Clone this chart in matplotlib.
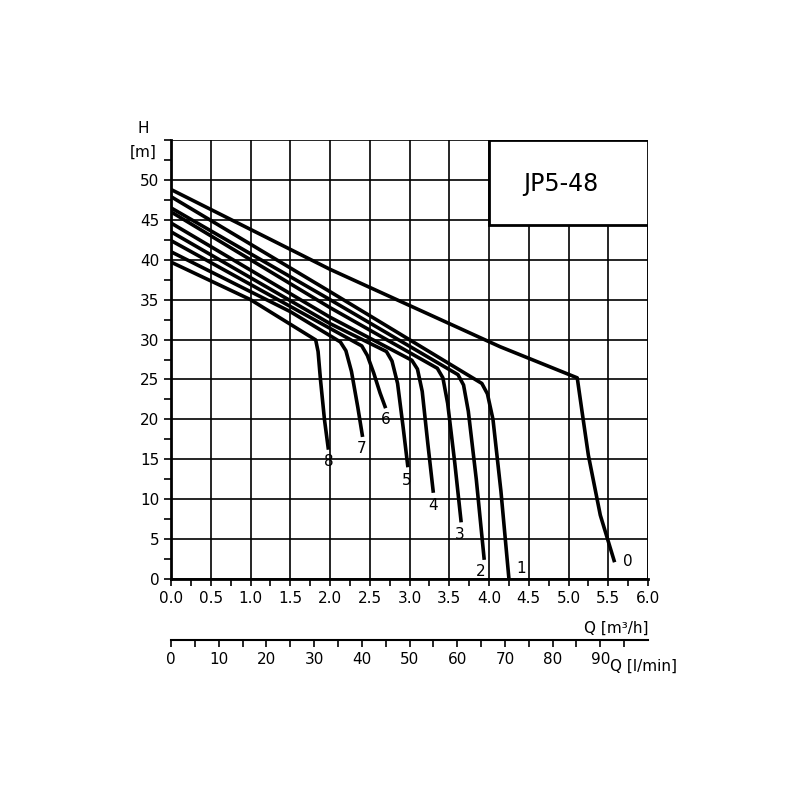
import matplotlib.pyplot as plt
from matplotlib.patches import Rectangle

# pump curves: (Q m3/h, H m) points
curve_q = {
    "0": [0.0, 2.0, 4.14, 5.11, 5.17, 5.25, 5.4, 5.58],
    "1": [0.0, 2.0, 3.91, 3.98, 4.05, 4.15, 4.25],
    "2": [0.0, 2.0, 3.61, 3.68, 3.74, 3.84, 3.94],
    "3": [0.0, 2.0, 3.35, 3.42, 3.48, 3.57, 3.65],
    "4": [0.0, 2.0, 3.03, 3.10, 3.16, 3.23, 3.30],
    "5": [0.0, 2.0, 2.71, 2.78, 2.85, 2.92, 2.98],
    "6": [0.0, 2.0, 2.40, 2.47, 2.55, 2.63, 2.70],
    "7": [0.0, 1.5, 2.13, 2.20, 2.27, 2.35, 2.41],
    "8": [0.0, 1.0, 1.82, 1.85, 1.88, 1.93, 1.98],
}
curve_h = {
    "0": [48.8, 38.8, 29.1, 25.2, 21.0, 15.5, 8.0, 2.1],
    "1": [47.9, 36.0, 24.5, 23.2, 20.0, 11.0, 0.1],
    "2": [46.5, 35.0, 25.6, 24.3, 21.0, 12.5, 2.4],
    "3": [46.0, 34.0, 26.4, 25.2, 22.0, 14.5, 7.1],
    "4": [44.6, 32.8, 27.4, 26.3, 23.5, 17.0, 10.8],
    "5": [43.5, 32.0, 28.5, 27.3, 24.5, 19.0, 14.0],
    "6": [42.4, 31.4, 29.2, 28.0, 25.8, 23.3, 21.4],
    "7": [41.0, 33.5, 29.7, 28.6, 26.0, 21.5, 17.8],
    "8": [39.7, 35.0, 29.95, 28.5, 25.0, 20.0, 16.2],
}
label_pos = {
    "0": (5.74, 2.2), "1": (4.41, 1.3), "2": (3.90, 0.9), "3": (3.63, 5.6),
    "4": (3.30, 9.2), "5": (2.97, 12.4), "6": (2.70, 20.0), "7": (2.40, 16.4), "8": (1.98, 14.7),
}

fig = plt.figure(figsize=(8, 8), dpi=100)
ax = fig.add_axes([0.21375, 0.27625, 0.59625, 0.54875])
ax.set_xlim(0, 6)
ax.set_ylim(0, 55)
ax.set_xticks([i * 0.5 for i in range(13)])
ax.set_xticklabels([f"{i*0.5:.1f}" for i in range(13)])
ax.set_xticks([i * 0.25 for i in range(25)], minor=True)
ax.set_yticks(range(0, 51, 5))
ax.set_yticks([i * 2.5 for i in range(23)], minor=True)
ax.grid(True, color="black", lw=1.2)
ax.axhline(55, color="black", lw=1.2)
ax.axvline(6, color="black", lw=1.2)
for s in ["top", "right"]:
    ax.spines[s].set_visible(False)
ax.spines["left"].set_linewidth(2)
ax.spines["bottom"].set_linewidth(2)
ax.tick_params(which="both", direction="out", length=5, width=1.2, labelsize=11)

for k in curve_q:
    ax.plot(curve_q[k], curve_h[k], color="black", lw=2.6, solid_capstyle="butt")
    ax.text(*label_pos[k], k, ha="center", va="center", fontsize=11)

ax.add_patch(Rectangle((4.0, 44.3), 2.0, 10.7, facecolor="white", edgecolor="black", lw=2, zorder=3))
ax.text(4.9, 49.5, "JP5-48", fontsize=17, ha="center", va="center", zorder=4)

ax.text(-0.35, 56.5, "H", fontsize=11, ha="center", va="center", clip_on=False)
ax.text(-0.35, 53.5, "[m]", fontsize=11, ha="center", va="center", clip_on=False)
fig.text(0.81, 0.215, "Q [m³/h]", fontsize=11, ha="right", va="center")

ax2 = fig.add_axes([0.21375, 0.2, 0.59625, 0.0001])
ax2.set_xlim(0, 100)
for s in ["top", "right", "left"]:
    ax2.spines[s].set_visible(False)
ax2.spines["bottom"].set_linewidth(1.5)
ax2.set_yticks([])
ax2.set_xticks(range(0, 91, 10))
ax2.set_xticks(range(0, 96, 5), minor=True)
ax2.tick_params(which="both", direction="out", length=5, width=1.2, labelsize=11)
fig.text(0.762, 0.167, "Q [l/min]", fontsize=11, ha="left", va="center")

fig.savefig("out.png")
